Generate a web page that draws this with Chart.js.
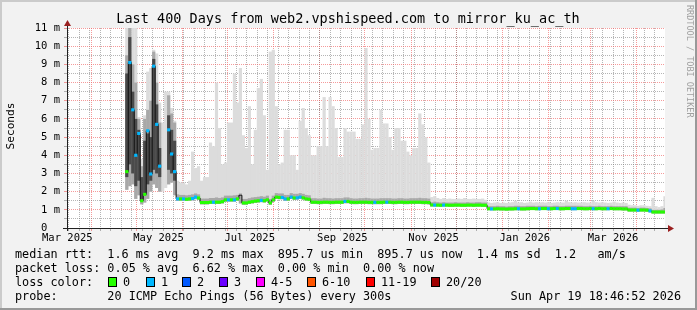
<!DOCTYPE html>
<html>
<head>
<meta charset="utf-8">
<title>Smokeping web2 to mirror_ku_ac_th</title>
<script src="https://cdn.jsdelivr.net/npm/chart.js@4.4.1/dist/chart.umd.min.js"></script>
<style>
  html, body { margin: 0; padding: 0; background: #f2f2f2; }
  #wrap { width: 697px; height: 310px; }
</style>
</head>
<body>
<div id="wrap"><canvas id="smokeChart" width="697" height="310"></canvas></div>
<script>
// one bin every 2 days, counted in days from the start of the 400 day window
const firstDay = 40;
const stepDays = 2;

// median rtt per bin (ms)
const median = [
  3.1, 9.1, 6.5, 4.0, 5.2, 1.5, 1.85, 5.35, 2.97, 8.9,
  5.7, 3.4, null, null, 5.4, 4.07, 3.1, 1.6, 1.6, 1.6,
  1.58, 1.6, 1.62, 1.7, 1.65, 1.4, 1.4, 1.4, 1.42, 1.42,
  1.42, 1.42, 1.45, 1.55, 1.55, 1.55, 1.55, 1.6, 1.8, 1.38,
  1.38, 1.42, 1.45, 1.48, 1.5, 1.52, 1.5, 1.55, 1.38, 1.55,
  1.7, 1.68, 1.68, 1.6, 1.6, 1.7, 1.65, 1.66, 1.7, 1.66,
  1.6, 1.58, 1.42, 1.42, 1.41, 1.41, 1.42, 1.42, 1.41, 1.41,
  1.42, 1.42, 1.42, 1.46, 1.46, 1.42, 1.41, 1.41, 1.42, 1.42,
  1.42, 1.41, 1.41, 1.41, 1.41, 1.41, 1.42, 1.42, 1.42, 1.41,
  1.41, 1.42, 1.42, 1.41, 1.41, 1.42, 1.42, 1.42, 1.42, 1.41,
  1.41, 1.4, 1.27, 1.26, 1.26, 1.25, 1.26, 1.26, 1.25, 1.25,
  1.26, 1.26, 1.25, 1.25, 1.26, 1.26, 1.25, 1.26, 1.26, 1.25,
  1.25, 1.06, 1.05, 1.05, 1.06, 1.05, 1.05, 1.04, 1.05, 1.05,
  1.06, 1.06, 1.05, 1.05, 1.06, 1.07, 1.07, 1.06, 1.06, 1.07,
  1.07, 1.06, 1.06, 1.07, 1.07, 1.06, 1.06, 1.07, 1.07, 1.06,
  1.06, 1.07, 1.07, 1.06, 1.06, 1.07, 1.06, 1.06, 1.07, 1.06,
  1.06, 1.06, 1.07, 1.06, 1.06, 1.06, 1.05, 1.05, 0.99, 0.99,
  0.99, 0.98, 0.99, 0.99, 0.98, 0.94, 0.88, 0.88, 0.88, 0.88,
  0.88
];

// lost pings per bin (-1 = no colour drawn)
const loss = [
  0, 1, 1, 1, 1, 0, 0, 1, 1, 1,
  1, 1, 0, 0, 1, 1, 1, 1, 0, 1,
  0, 0, 1, 1, 0, 0, 0, 0, 0, 1,
  0, 0, 0, 0, 1, 0, 1, 0, -1, 0,
  0, 0, 0, 0, 0, 1, 0, 0, 0, 0,
  0, 0, 1, 1, 0, 1, 0, 1, 1, 0,
  0, 0, 0, 0, 0, 0, 0, 0, 0, 0,
  0, 0, 0, 1, 0, 0, 0, 0, 0, 0,
  0, 0, 0, 1, 0, 0, 0, 1, 0, 0,
  0, 0, 0, 0, 0, 0, 0, 0, 0, 0,
  0, 0, 0, 1, 0, 0, 1, 0, 0, 0,
  0, 0, 0, 0, 0, 0, 0, 0, 0, 0,
  0, 0, 1, 0, 0, 0, 0, 0, 0, 0,
  0, 1, 0, 0, 0, 0, 0, 0, 1, 0,
  0, 1, 0, 0, 1, 0, 0, 0, 0, 1,
  1, 0, 0, 0, 0, 0, 1, 0, 0, 0,
  0, 1, 0, 0, 0, 0, 0, 0, 0, 0,
  0, 1, 0, 0, 0, 1, 0, 0, 0, 0,
  0
];

// smoke: lowest ping, upper edge of the darker band, highest ping (ms)
const smokeLo = [
  2.1, 2.3, 2.4, 1.6, 1.8, 1.3, 1.4, 1.6, 2.0, 2.4,
  2.2, 2.0, 2.0, 2.2, 2.4, 2.5, 1.8, 1.5, 1.5, 1.5,
  1.5, 1.5, 1.52, 1.58, 1.55, 1.3, 1.3, 1.3, 1.32, 1.32,
  1.32, 1.32, 1.35, 1.45, 1.45, 1.45, 1.45, 1.5, 1.35, 1.28,
  1.28, 1.32, 1.35, 1.38, 1.4, 1.42, 1.4, 1.45, 1.28, 1.45,
  1.6, 1.58, 1.58, 1.5, 1.5, 1.6, 1.55, 1.56, 1.6, 1.56,
  1.5, 1.48, 1.32, 1.32, 1.31, 1.31, 1.32, 1.32, 1.31, 1.31,
  1.32, 1.32, 1.32, 1.36, 1.36, 1.32, 1.31, 1.31, 1.32, 1.32,
  1.32, 1.31, 1.31, 1.31, 1.31, 1.31, 1.32, 1.32, 1.32, 1.31,
  1.31, 1.32, 1.32, 1.31, 1.31, 1.32, 1.32, 1.32, 1.32, 1.31,
  1.31, 1.3, 1.18, 1.18, 1.18, 1.17, 1.18, 1.18, 1.17, 1.17,
  1.18, 1.18, 1.17, 1.17, 1.18, 1.18, 1.17, 1.18, 1.18, 1.17,
  1.17, 0.98, 0.97, 0.97, 0.98, 0.97, 0.97, 0.96, 0.97, 0.97,
  0.98, 0.98, 0.97, 0.97, 0.98, 0.99, 0.99, 0.98, 0.98, 0.99,
  0.99, 0.98, 0.98, 0.99, 0.99, 0.98, 0.98, 0.99, 0.99, 0.98,
  0.98, 0.99, 0.99, 0.98, 0.98, 0.99, 0.98, 0.98, 0.99, 0.98,
  0.98, 0.98, 0.99, 0.98, 0.98, 0.98, 0.97, 0.97, 0.91, 0.91,
  0.91, 0.9, 0.91, 0.91, 0.9, 0.86, 0.8, 0.8, 0.8, 0.8,
  0.8
];

const smokeMid = [
  9.5, 11, 9.0, 8.0, 6.0, 3.4, 6.0, 6.5, 7.0, 9.7,
  8.0, 5.8, null, null, 7.3, 6.3, 5.8, 1.85, 1.82, 1.82,
  1.8, 1.82, 1.85, 1.9, 1.85, 1.62, 1.62, 1.62, 1.65, 1.65,
  1.68, 1.65, 1.68, 1.78, 1.78, 1.78, 1.8, 1.82, 1.9, 1.6,
  1.6, 1.64, 1.68, 1.7, 1.72, 1.75, 1.72, 1.78, 1.6, 1.78,
  1.92, 1.9, 1.9, 1.82, 1.82, 1.92, 1.88, 1.88, 1.92, 1.88,
  1.82, 1.8, 1.64, 1.64, 1.62, 1.62, 1.66, 1.64, 1.64, 1.62,
  1.64, 1.64, 1.64, 1.68, 1.68, 1.64, 1.62, 1.62, 1.64, 1.64,
  1.66, 1.64, 1.62, 1.62, 1.62, 1.64, 1.64, 1.64, 1.64, 1.62,
  1.62, 1.64, 1.64, 1.62, 1.62, 1.64, 1.64, 1.64, 1.66, 1.64,
  1.64, 1.62, 1.42, 1.45, 1.42, 1.4, 1.42, 1.4, 1.4, 1.4,
  1.42, 1.4, 1.4, 1.4, 1.42, 1.4, 1.4, 1.42, 1.42, 1.4,
  1.4, 1.2, 1.2, 1.2, 1.22, 1.2, 1.2, 1.18, 1.2, 1.2,
  1.22, 1.22, 1.2, 1.2, 1.22, 1.22, 1.22, 1.2, 1.22, 1.22,
  1.22, 1.2, 1.2, 1.22, 1.22, 1.2, 1.2, 1.22, 1.22, 1.22,
  1.22, 1.22, 1.22, 1.2, 1.2, 1.22, 1.2, 1.2, 1.22, 1.2,
  1.2, 1.2, 1.22, 1.2, 1.2, 1.2, 1.2, 1.2, 1.12, 1.12,
  1.12, 1.1, 1.12, 1.12, 1.1, 1.08, 1.0, 1.0, 1.0, 1.02,
  1.1
];

const smokeHi = [
  11, 11, 11, 11, 6.1, 3.8, 6.2, 8.6, 8.8, 9.8,
  9.6, 6.9, 5.8, 7.5, 7.5, 6.6, 5.9, 2.6, 2.5, 2.5,
  2.4, 2.6, 4.2, 3.3, 3.4, 2.6, 2.8, 2.8, 4.7, 4.5,
  8.0, 5.5, 3.5, 3.6, 5.8, 5.8, 8.5, 6.9, 8.8, 5.1,
  4.4, 6.7, 3.5, 5.4, 7.7, 8.2, 6.2, 3.2, 9.7, 9.8,
  6.7, 3.5, 3.6, 5.4, 5.4, 4.0, 4.0, 3.2, 5.9, 6.6,
  5.5, 5.1, 4.0, 4.0, 4.5, 4.5, 7.2, 4.5, 7.2, 6.7,
  5.5, 3.9, 3.9, 5.5, 5.3, 5.3, 5.3, 4.9, 4.9, 5.7,
  9.9, 6.0, 4.3, 4.4, 4.4, 6.5, 5.75, 5.75, 5.0, 4.3,
  5.5, 5.5, 4.8, 4.8, 4.2, 4.0, 4.4, 4.4, 6.3, 5.7,
  5.0, 3.6, 1.7, 1.75, 1.65, 1.6, 1.65, 1.6, 1.62, 1.6,
  1.6, 1.62, 1.6, 1.65, 1.6, 1.6, 1.62, 1.6, 1.6, 1.62,
  1.55, 1.4, 1.38, 1.4, 1.42, 1.38, 1.4, 1.38, 1.4, 1.42,
  1.5, 1.4, 1.42, 1.38, 1.4, 1.45, 1.4, 1.42, 1.4, 1.42,
  1.4, 1.42, 1.38, 1.4, 1.42, 1.4, 1.4, 1.5, 1.42, 1.4,
  1.42, 1.4, 1.4, 1.42, 1.4, 1.4, 1.5, 1.42, 1.4, 1.42,
  1.4, 1.38, 1.4, 1.45, 1.4, 1.38, 1.4, 1.38, 1.28, 1.25,
  1.25, 1.22, 1.25, 1.25, 1.22, 1.2, 1.66, 1.2, 1.15, 1.2,
  1.75
];

// dark core of the smoke in the unstable weeks (first bins only)
const coreLo = [2.8, 3.5, 3.0, 2.3, 2.6, 1.5, 1.8, 2.4, 2.6, 3.2, 3.0, 2.8, null, null, 3.2, 3.0, 2.6];
const coreHi = [8.5, 10.5, 7.5, 6.0, 5.4, 2.8, 4.8, 5.2, 5.0, 9.3, 6.8, 4.4, null, null, 6.2, 5.4, 4.8];

// x axis: month starts (grid), label positions (mid month) and their text, week starts
const monthStarts = [16.22, 46.22, 77.22, 107.22, 138.22, 169.22, 199.22, 230.22, 260.22, 291.22, 322.22, 350.22, 381.22];
const labelDays = [0.22, 61.22, 122.22, 184.22, 245.22, 306.22, 365.22];
const monthLabels = ['Mar 2025', 'May 2025', 'Jul 2025', 'Sep 2025', 'Nov 2025', 'Jan 2026', 'Mar 2026'];
const firstWeek = 1.22;

// y axis labels
const yLabels = ['0  ', '1 m', '2 m', '3 m', '4 m', '5 m', '6 m', '7 m', '8 m', '9 m', '10 m', '11 m'];

const lossColors = { 0: '#26ff00', 1: '#00b8ff' };
const lossLegend = [
  ['0', '#26ff00'], ['1', '#00b8ff'], ['2', '#0059ff'], ['3', '#6a00ff'],
  ['4-5', '#ff00ff'], ['6-10', '#ff5500'], ['11-19', '#ff0000'], ['20/20', '#a00000']
];

const MONO = "'DejaVu Sans Mono', monospace";
const xs = median.map((_, i) => firstDay + i * stepDays);

function ranges(lo, hi) {
  const out = [];
  xs.forEach((x, i) => {
    if (lo[i] != null && hi[i] != null) out.push({ x: x, y: [lo[i], hi[i]] });
  });
  return out;
}

const dashes = [];
xs.forEach((x, i) => {
  if (median[i] != null && loss[i] >= 0) {
    dashes.push({ x: x, y: [median[i] - 0.085, median[i] + 0.085], loss: loss[i] });
  }
});

function buildXTicks(scale) {
  const t = [];
  labelDays.forEach((v, k) => t.push({ value: v, kind: 'label', lab: monthLabels[k] }));
  monthStarts.forEach(v => t.push({ value: v, kind: 'month' }));
  for (let d = firstWeek; d < 400; d += 7) t.push({ value: d, kind: 'week' });
  scale.ticks = t;
}

function buildYTicks(scale) {
  const t = [];
  for (let k = 0; k <= 22; k++) {
    const v = k / 2;
    t.push({ value: v, kind: k % 2 === 0 ? 'month' : 'week', lab: k % 2 === 0 ? yLabels[k / 2] : '' });
  }
  scale.ticks = t;
}

const majorCol = 'rgba(240, 100, 100, 0.65)';
const minorCol = 'rgba(120, 120, 120, 0.55)';
function gridCol(ctx) {
  const k = ctx.tick && ctx.tick.kind;
  if (k === 'month') return majorCol;
  if (k === 'week') return minorCol;
  return 'rgba(0,0,0,0)';
}

const decor = {
  id: 'decor',
  beforeDraw(chart) {
    const c = chart.ctx, a = chart.chartArea;
    c.save();
    c.fillStyle = '#f2f2f2';
    c.fillRect(0, 0, chart.width, chart.height);
    c.fillStyle = '#ffffff';
    c.fillRect(a.left, a.top, a.right - a.left, a.bottom - a.top);
    c.restore();
  },
  afterDraw(chart) {
    const c = chart.ctx, a = chart.chartArea;
    c.save();
    // axes with arrows
    c.strokeStyle = '#202020';
    c.lineWidth = 1;
    c.beginPath();
    c.moveTo(63, a.bottom + 0.5); c.lineTo(669, a.bottom + 0.5);
    c.moveTo(a.left + 0.5, a.bottom + 3); c.lineTo(a.left + 0.5, 25);
    c.stroke();
    c.fillStyle = '#9a1f1f';
    c.beginPath();
    c.moveTo(64, 26); c.lineTo(71, 26); c.lineTo(67.5, 20); c.closePath(); c.fill();
    c.beginPath();
    c.moveTo(668, 225); c.lineTo(668, 232); c.lineTo(674, 228.5); c.closePath(); c.fill();

    c.fillStyle = '#000';
    c.textBaseline = 'middle';
    c.font = '13.5px ' + MONO;
    c.textAlign = 'center';
    c.fillText('Last 400 Days from web2.vpshispeed.com to mirror_ku_ac_th', 348, 19.5);

    c.font = '11.8px ' + MONO;
    c.textAlign = 'left';
    c.fillText('median rtt:  1.6 ms avg  9.2 ms max  895.7 us min  895.7 us now  1.4 ms sd  1.2   am/s', 15, 254.5);
    c.fillText('packet loss: 0.05 % avg  6.62 % max  0.00 % min  0.00 % now', 15, 268.5);
    c.fillText('loss color:', 15, 282.5);
    c.fillText('probe:       20 ICMP Echo Pings (56 Bytes) every 300s', 15, 296.5);
    c.textAlign = 'right';
    c.fillText('Sun Apr 19 18:46:52 2026', 681, 296.5);

    const boxX = [108, 146, 182, 219, 256, 307, 366, 431];
    c.textAlign = 'left';
    lossLegend.forEach((item, k) => {
      c.fillStyle = item[1];
      c.fillRect(boxX[k], 277, 9, 10);
      c.strokeStyle = '#000';
      c.strokeRect(boxX[k] + 0.5, 277.5, 8, 9);
      c.fillStyle = '#000';
      c.fillText(item[0], boxX[k] + 15, 282.5);
    });

    // vertical labels
    c.save();
    c.translate(11, 126);
    c.rotate(-Math.PI / 2);
    c.textAlign = 'center';
    c.font = '11.2px ' + MONO;
    c.fillText('Seconds', 0, 0);
    c.restore();

    c.save();
    c.translate(689, 5);
    c.rotate(Math.PI / 2);
    c.textAlign = 'left';
    c.font = '8.5px ' + MONO;
    c.fillStyle = '#a0a0a0';
    c.fillText('RRDTOOL / TOBI OETIKER', 0, 0);
    c.restore();

    // 3d frame
    c.fillStyle = '#cbcbcb';
    c.fillRect(0, 0, chart.width, 2);
    c.fillRect(0, 0, 2, chart.height);
    c.fillStyle = '#999999';
    c.fillRect(0, chart.height - 2, chart.width, 2);
    c.fillRect(chart.width - 2, 0, 2, chart.height);
    c.restore();
  }
};

const ctx = document.getElementById('smokeChart').getContext('2d');
new Chart(ctx, {
  type: 'bar',
  data: {
    datasets: [
      { label: 'smoke', data: ranges(smokeLo, smokeHi), backgroundColor: '#dcdcdc', order: 5 },
      { label: 'smoke band', data: ranges(smokeLo, smokeMid), backgroundColor: '#a8a8a8', order: 4 },
      { label: 'smoke core', data: ranges(coreLo, coreHi), backgroundColor: '#4a4a4a', order: 3 },
      {
        type: 'line', label: 'median', order: 2,
        data: xs.map((x, i) => ({ x: x, y: median[i] })),
        borderColor: '#101010', borderWidth: 1, pointRadius: 0,
        stepped: 'middle', spanGaps: false
      },
      {
        label: 'median loss', order: 1, data: dashes,
        backgroundColor: c => (c.raw ? lossColors[c.raw.loss] : '#26ff00')
      }
    ]
  },
  options: {
    responsive: false,
    animation: false,
    devicePixelRatio: 1,
    layout: { padding: { top: 28, right: 32, left: 0, bottom: 0 } },
    datasets: {
      bar: { grouped: false, barThickness: 3.2, borderWidth: 0, inflateAmount: 0 }
    },
    plugins: { legend: { display: false }, tooltip: { enabled: false }, title: { display: false } },
    scales: {
      x: {
        type: 'linear', min: 0, max: 400, offset: false, z: 1,
        afterBuildTicks: buildXTicks,
        afterFit: s => { s.height = 82; },
        grid: { offset: false, color: gridCol, tickColor: gridCol, tickLength: 3, lineWidth: 1 },
        border: { display: false, dash: [1, 1] },
        ticks: {
          autoSkip: false, maxRotation: 0, minRotation: 0, padding: 1, color: '#000',
          font: { family: MONO, size: 10.5 },
          callback: (v, i, t) => t[i].lab || ''
        }
      },
      y: {
        min: 0, max: 11, z: 1,
        afterBuildTicks: buildYTicks,
        afterFit: s => { s.width = 67; },
        grid: { color: gridCol, tickColor: gridCol, tickLength: 3, lineWidth: 1 },
        border: { display: false, dash: [1, 1] },
        ticks: {
          autoSkip: false, padding: 4, color: '#000',
          font: { family: MONO, size: 10.5 },
          callback: (v, i, t) => t[i].lab || ''
        }
      }
    }
  },
  plugins: [decor]
});
</script>
</body>
</html>
